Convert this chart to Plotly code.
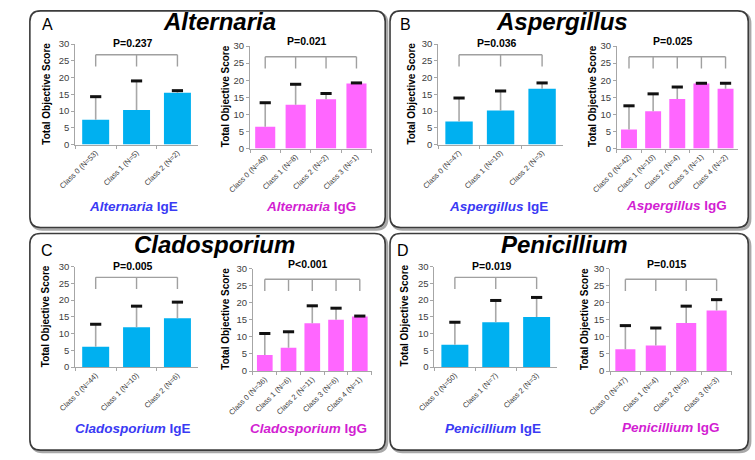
import plotly.graph_objects as go

W, H = 755, 460
FONT = "Arial, 'Liberation Sans', Helvetica, sans-serif"

# ---------------- data ----------------
alt_ige_cats = ["Class 0 (N=53)", "Class 1 (N=5)", "Class 2 (N=2)"]
alt_ige_mean = [7.4, 10.3, 15.5]
alt_ige_sd = [6.9, 8.7, 0.6]
alt_ige_p = "P=0.237"

alt_igg_cats = ["Class 0 (N=49)", "Class 1 (N=8)", "Class 2 (N=2)", "Class 3 (N=1)"]
alt_igg_mean = [6.4, 12.8, 14.4, 19.0]
alt_igg_sd = [7.0, 6.0, 1.7, 0.2]
alt_igg_p = "P=0.021"

asp_ige_cats = ["Class 0 (N=47)", "Class 1 (N=10)", "Class 2 (N=3)"]
asp_ige_mean = [6.9, 10.2, 16.7]
asp_ige_sd = [7.0, 5.8, 1.7]
asp_ige_p = "P=0.036"

asp_igg_cats = ["Class 0 (N=42)", "Class 1 (N=10)", "Class 2 (N=4)", "Class 3 (N=1)", "Class 4 (N=2)"]
asp_igg_mean = [5.6, 10.9, 14.5, 19.0, 17.5]
asp_igg_sd = [6.9, 5.1, 3.5, 0.1, 1.6]
asp_igg_p = "P=0.025"

cla_ige_cats = ["Class 0 (N=44)", "Class 1 (N=10)", "Class 2 (N=6)"]
cla_ige_mean = [6.1, 11.9, 14.6]
cla_ige_sd = [6.7, 6.3, 4.8]
cla_ige_p = "P=0.005"

cla_igg_cats = ["Class 0 (N=36)", "Class 1 (N=6)", "Class 2 (N=11)", "Class 3 (N=6)", "Class 4 (N=1)"]
cla_igg_mean = [4.7, 6.8, 14.0, 15.0, 16.0]
cla_igg_sd = [6.3, 4.7, 5.1, 3.4, 0.1]
cla_igg_p = "P<0.001"

pen_ige_cats = ["Class 0 (N=50)", "Class 1 (N=7)", "Class 2 (N=3)"]
pen_ige_mean = [6.7, 13.4, 15.0]
pen_ige_sd = [6.7, 6.5, 5.8]
pen_ige_p = "P=0.019"

pen_igg_cats = ["Class 0 (N=47)", "Class 1 (N=4)", "Class 2 (N=5)", "Class 3 (N=3)"]
pen_igg_mean = [6.4, 7.5, 14.1, 17.7]
pen_igg_sd = [6.9, 5.1, 4.9, 3.2]
pen_igg_p = "P=0.015"

panel_letters = ["A", "B", "C", "D"]
panel_titles = ["Alternaria", "Aspergillus", "Cladosporium", "Penicillium"]

# ---------------- layout helpers ----------------
def px(x):
    return x / W


def py(y):
    return 1 - y / H


BLUE_BAR = "#00B0F0"
PINK_BAR = "#FF66FF"
BLUE_TXT = "#3A3AF4"
PINK_TXT = "#D21ED2"

# subplot specs: (cats, mean, sd, p, kind, genus, x0,x1 px, ytop,ybot px, ytitle_x, label_x, label_y, p_y)
subplots = [
    (alt_ige_cats, alt_ige_mean, alt_ige_sd, alt_ige_p, "IgE", "Alternaria", 51, 178, 39, 142, 21, 111, 205, 38),
    (alt_igg_cats, alt_igg_mean, alt_igg_sd, alt_igg_p, "IgG", "Alternaria", 232, 358, 41, 146, 206, 295, 205, 36),
    (asp_ige_cats, asp_ige_mean, asp_ige_sd, asp_ige_p, "IgE", "Aspergillus", 427, 556, 39, 142, 399, 489, 205, 38),
    (asp_igg_cats, asp_igg_mean, asp_igg_sd, asp_igg_p, "IgG", "Aspergillus", 612, 737, 41, 146, 586, 674, 204, 36),
    (cla_ige_cats, cla_ige_mean, cla_ige_sd, cla_ige_p, "IgE", "Cladosporium", 51, 178, 267, 370, 21, 111, 433, 266),
    (cla_igg_cats, cla_igg_mean, cla_igg_sd, cla_igg_p, "IgG", "Cladosporium", 235, 358, 269, 374, 207, 293, 433, 264),
    (pen_ige_cats, pen_ige_mean, pen_ige_sd, pen_ige_p, "IgE", "Penicillium", 423, 550, 267, 370, 392, 484, 433, 266),
    (pen_igg_cats, pen_igg_mean, pen_igg_sd, pen_igg_p, "IgG", "Penicillium", 605, 731, 269, 374, 579, 668, 432, 264),
]

fig = go.Figure()
layout_axes = {}
annotations = []
shapes = []

# panel frames
panels = [(4, 5, 372, 227), (377, 5, 748, 227), (4, 233, 372, 455), (377, 233, 748, 455)]


def rrect(x0, y0, x1, y1, r):
    pts = [
        ("M", [(x0 + r, y0)]),
        ("L", [(x1 - r, y0)]),
        ("Q", [(x1, y0), (x1, y0 + r)]),
        ("L", [(x1, y1 - r)]),
        ("Q", [(x1, y1), (x1 - r, y1)]),
        ("L", [(x0 + r, y1)]),
        ("Q", [(x0, y1), (x0, y1 - r)]),
        ("L", [(x0, y0 + r)]),
        ("Q", [(x0, y0), (x0 + r, y0)]),
    ]
    s = ""
    for cmd, plist in pts:
        s += cmd + " " + " ".join(f"{px(a):.5f},{py(b):.5f}" for a, b in plist) + " "
    return s + "Z"


for (x0, y0, x1, y1) in panels:
    shapes.append(dict(type="path", path=rrect(x0 + 2, y0 + 2, x1 + 2, y1 + 2, 11), xref="paper", yref="paper",
                       line=dict(color="#A8A8A8", width=2.5), fillcolor="#C8C8C8", layer="below"))
    shapes.append(dict(type="path", path=rrect(x0, y0, x1, y1, 11), xref="paper", yref="paper",
                       line=dict(color="#3C3C3C", width=1.6), fillcolor="white", layer="below"))

# panel letters & titles
letter_pos = [(22, 19), (393, 19), (22, 251), (390, 251)]
title_pos = [(200, 16), (555, 16), (195, 244), (558, 244)]
for i in range(4):
    lx, ly = letter_pos[i]
    annotations.append(dict(text=panel_letters[i], x=px(lx), y=py(ly), xref="paper", yref="paper",
                            showarrow=False, xanchor="center", yanchor="middle",
                            font=dict(family=FONT, size=16, color="black")))
    tx, ty = title_pos[i]
    annotations.append(dict(text=f"<b><i>{panel_titles[i]}</i></b>", x=px(tx), y=py(ty), xref="paper", yref="paper",
                            showarrow=False, xanchor="center", yanchor="middle",
                            font=dict(family=FONT, size=24, color="black")))

for k, (cats, mean, sd, ptxt, kind, genus, x0, x1, yt, yb, ytx, lbx, lby, pyy) in enumerate(subplots):
    idx = "" if k == 0 else str(k + 1)
    xa, ya = "x" + idx, "y" + idx
    bar_col = BLUE_BAR if kind == "IgE" else PINK_BAR
    txt_col = BLUE_TXT if kind == "IgE" else PINK_TXT
    n = len(cats)
    tops = [m + s for m, s in zip(mean, sd)]

    fig.add_trace(go.Bar(x=cats, y=mean, marker=dict(color=bar_col, line=dict(width=0)),
                         error_y=dict(type="data", array=sd, arrayminus=[0] * n, symmetric=False,
                                      color="#A8A8A8", thickness=1.6, width=0),
                         xaxis=xa, yaxis=ya, showlegend=False))
    fig.add_trace(go.Scatter(x=cats, y=tops, mode="markers",
                             marker=dict(symbol="line-ew", size=8, line=dict(width=3, color="#111111")),
                             xaxis=xa, yaxis=ya, showlegend=False, cliponaxis=False))

    # bracket (pixel-constant offsets from the top of the plot area)
    span = yb - yt
    y_hi = 30 * (yb - (yt + 11)) / span
    y_lo = 30 * (yb - (yt + 23)) / span
    bx, by = [cats[0], cats[-1], None], [y_hi, y_hi, None]
    for c in cats:
        bx += [c, c, None]
        by += [y_hi, y_lo, None]
    fig.add_trace(go.Scatter(x=bx, y=by, mode="lines", line=dict(color="#A0A0A0", width=1.4),
                             xaxis=xa, yaxis=ya, showlegend=False, hoverinfo="skip"))

    layout_axes["xaxis" + idx] = dict(
        domain=[px(x0), px(x1)], anchor=ya, type="category", range=[-0.5, n - 0.5],
        showline=True, linecolor="#A6A6A6", linewidth=1, ticks="outside", tickson="boundaries",
        ticklen=3, tickcolor="#A6A6A6", tickangle=-45, showgrid=False,
        tickfont=dict(family=FONT, size=7.5, color="#404040"), fixedrange=True)
    layout_axes["yaxis" + idx] = dict(
        domain=[py(yb), py(yt)], anchor=xa, range=[0, 30], tickvals=[0, 5, 10, 15, 20, 25, 30],
        showline=True, linecolor="#A6A6A6", linewidth=1, ticks="outside", ticklen=3, tickcolor="#A6A6A6",
        showgrid=False, zeroline=False, tickfont=dict(family=FONT, size=9.5, color="#404040"), fixedrange=True)

    # y title
    annotations.append(dict(text="<b>Total Objective Score</b>", x=px(ytx), y=py((yt + yb) / 2 - 1),
                            xref="paper", yref="paper", showarrow=False, textangle=-90,
                            xanchor="center", yanchor="middle",
                            font=dict(family=FONT, size=10, color="black")))
    # P value
    annotations.append(dict(text=f"<b>{ptxt}</b>", x=(n - 1) / 2, y=py(pyy), xref=xa, yref="paper",
                            xshift=-4, showarrow=False, xanchor="center", yanchor="middle",
                            font=dict(family=FONT, size=10.5, color="black")))
    # bottom label
    annotations.append(dict(text=f"<b><i>{genus}</i> {kind}</b>", x=px(lbx), y=py(lby),
                            xref="paper", yref="paper", showarrow=False, xanchor="center", yanchor="middle",
                            font=dict(family=FONT, size=13.5, color=txt_col)))

fig.update_layout(
    width=W, height=H, margin=dict(l=0, r=0, t=0, b=0),
    paper_bgcolor="white", plot_bgcolor="rgba(0,0,0,0)",
    bargap=0.34, showlegend=False,
    shapes=shapes, annotations=annotations,
    font=dict(family=FONT),
    **layout_axes,
)

fig.write_html("out.html", config={"displayModeBar": False})
